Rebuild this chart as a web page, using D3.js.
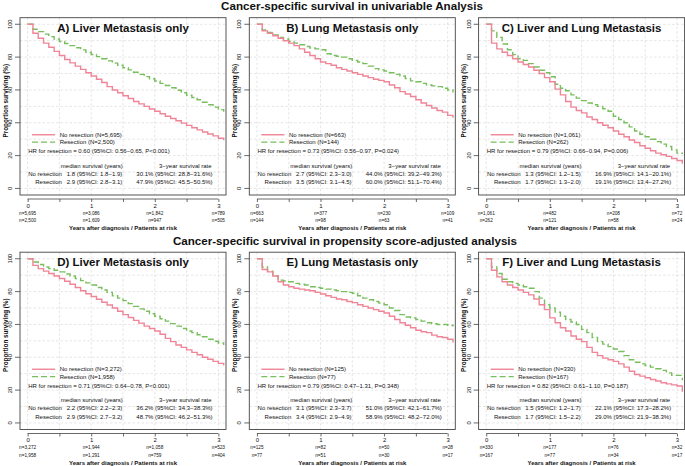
<!DOCTYPE html>
<html><head><meta charset="utf-8">
<script src="https://cdn.jsdelivr.net/npm/d3@7"></script>
<style>
html,body{margin:0;padding:0;background:#fff;}
svg{display:block;font-family:"Liberation Sans",Arial,Helvetica,sans-serif;}
</style></head>
<body><svg id="chart" width="685" height="466"></svg>
<script>
// ---------------- DATA ----------------
const mainTitles = ["Cancer-specific survival in univariable Analysis",
                    "Cancer-specific survival in propensity score-adjusted analysis"];
const panelTitles = ["A) Liver Metastasis only","B) Lung Metastasis only","C) Liver and Lung Metastasis",
                     "D) Liver Metastasis only","E) Lung Metastasis only","F) Liver and Lung Metastasis"];
const groupNames = ["No resection","Resection"];
const noResN = ["5,695","663","1,061","3,272","125","330"];
const resN   = ["2,500","144","262","1,958","77","167"];
const hrText = ["HR for resection = 0.60 (95%CI: 0.56\u22120.65, P<0.001)",
                "HR for resection = 0.73 (95%CI: 0.56\u22120.97, P=0.024)",
                "HR for resection = 0.79 (95%CI: 0.66\u22120.94, P=0.006)",
                "HR for resection = 0.71 (95%CI: 0.64\u22120.78, P<0.001)",
                "HR for resection = 0.79 (95%CI: 0.47\u22121.31, P=0.348)",
                "HR for resection = 0.82 (95%CI: 0.61\u22121.10, P=0.187)"];
const medianNo  = ["1.8 (95%CI: 1.8\u22121.9)","2.7 (95%CI: 2.3\u22123.0)","1.3 (95%CI: 1.2\u22121.5)",
                   "2.2 (95%CI: 2.2\u22122.3)","3.1 (95%CI: 2.3\u22123.7)","1.5 (95%CI: 1.2\u22121.7)"];
const medianRes = ["2.9 (95%CI: 2.8\u22123.1)","3.5 (95%CI: 3.1\u22124.5)","1.7 (95%CI: 1.3\u22122.0)",
                   "2.9 (95%CI: 2.7\u22123.2)","3.4 (95%CI: 2.9\u22124.9)","1.7 (95%CI: 1.5\u22122.2)"];
const rateNo  = ["30.1% (95%CI: 28.8\u221231.6%)","44.0% (95%CI: 39.2\u221249.3%)","16.9% (95%CI: 14.1\u221220.1%)",
                 "36.2% (95%CI: 34.3\u221238.3%)","51.0% (95%CI: 42.1\u221261.7%)","22.1% (95%CI: 17.3\u221228.2%)"];
const rateRes = ["47.9% (95%CI: 45.5\u221250.5%)","60.0% (95%CI: 51.1\u221270.4%)","19.1% (95%CI: 13.4\u221227.2%)",
                 "48.7% (95%CI: 46.2\u221251.3%)","58.9% (95%CI: 48.2\u221272.0%)","29.0% (95%CI: 21.9\u221238.3%)"];
const riskNo = [["5,695","3,086","1,842","789"],["663","377","230","109"],["1,061","482","208","72"],
                ["3,272","1,944","1,058","523"],["125","82","50","28"],["330","177","76","32"]];
const riskRes = [["2,500","1,609","947","505"],["144","98","63","41"],["262","121","58","24"],
                 ["1,958","1,291","759","404"],["77","51","30","17"],["167","77","34","17"]];
const yearTicks = [0,0.5,1,1.5,2,2.5,3];
const survTicks = [0,20,40,60,80,100];
const months = [0,1,2,3,4,5,6,7,8,9,10,11,12,13,14,15,16,17,18,19,20,21,22,23,24,25,26,27,28,29,30,31,32,33,34,35,36,37];
// survival (%) at each month
const survNoA  = [100,94.5,91.5,88.5,86,83.5,81,78.5,76.5,74.5,72.5,70.5,68.5,66.5,64.5,62,60,58.3,56.5,54.8,53,51.5,50,48.4,47,45.5,44,42.6,41.2,39.8,38.4,37,35.7,34.4,33.2,32,30.6,29.3];
const survResA = [100,97,95.5,94,92.5,91,89.5,88.3,87,85.7,84.4,83,81.6,80.3,79,77.7,76.3,75,73.5,72.2,70.8,69.5,68.1,66.8,65.4,64,62.7,61.3,59.8,58.3,56.8,55.4,54,52.5,51,49.5,48,46.7];
const survNoB  = [100,96,94.5,93,91.5,90,88.5,87,85,83,81,79,77,76,75,73.5,72.5,71.5,70.5,69.5,68.5,67.5,66.5,65.8,65,63,61.3,59,57.5,56,54,52,50.5,49,47.5,46.5,44.5,43];
const survResB = [100,96.5,95,93.5,92,91,89.5,88.5,87.5,86.5,85.5,85,84.5,82,81,80.5,80,79,78,77,76,74.5,73,72.2,71.5,70.5,69.5,68.5,67,65.5,65,64,63,62.5,62,61,60,58.5];
const survNoC  = [100,88.5,85,83,81,79,77,75.5,74,72,70,67.5,65,60.5,57,53,49.5,47.5,46,43.5,42,40,38.5,37,35,33,31.5,29.5,28,26,24.5,23,21.5,20.5,19.5,18.2,17,15];
const survResC = [100,96,92,88,84.5,81.5,79,78,76,74,72,70.5,68,63.5,61,59.5,57,55,53.5,52,51,50,48.5,47,44,42,40,37.5,35,33,31.5,30,28.5,27,25.5,23.5,21.5,21];
const survNoD  = [100,96,94,92.5,91,89.5,88,86.3,84.5,82.5,80.5,78.7,77,75.3,73.5,71.8,70,68,66,64.2,62.5,60.8,59,57.5,56,54,51.5,49.5,47.5,46,44.5,43,41.5,40,38.8,37.5,36.3,35];
const survResD = [100,98,96.5,95,94,93,92,90.7,89.5,88,86.7,85.3,84,82.5,81,79.5,77.5,76,74.5,72.7,71,69.5,68,66.5,65,63.5,62,60.5,59,57.5,56,55,53.7,52.5,51,49.8,48.7,47.5];
const survNoE  = [100,93.5,92,89.5,86,84,83,82,81.5,81,80.5,79.5,78.5,77.5,76.5,75.5,75,74,73.3,72,71,70,69,68,67,65,63,61,59.5,58,56.5,55.5,55,53.5,52.5,52,51,49];
const survResE = [100,95,92.5,89.5,87,86.5,86,85,84.5,84,83,82.5,82,81.5,81,80.5,80,79.5,79,77.5,76,75,74,73,72,70,68.5,66,64.5,64,63,62,61,60.5,60,60,59.5,58.8];
const survNoF  = [100,93,89,86,84,82.5,81,79.5,78,75.5,72,69,64,61,58,56,53,51,49.5,46,43,41,39.5,38.5,37.5,36,34,31.5,29.5,28.5,27.5,26.5,25.5,24.5,23.8,23.2,22.5,19];
const survResF = [100,95,91,87.5,86,85,84,83,82,80,76,72,70,67.5,65,63,61.5,60,57,55,52,49.5,48,46.5,45,43.5,41,38.5,37,36,35,34,33,32,30.5,29,29,26];
const survNo  = [survNoA,survNoB,survNoC,survNoD,survNoE,survNoF];
const survRes = [survResA,survResB,survResC,survResD,survResE,survResF];

// ---------------- DRAW ----------------
const svg = d3.select("#chart");
const RED = "#ef8597", GREEN = "#77bf5c", TXT = "#111";
const boxW = 206, boxH = 177.3;
const colOff = [20, 249.3, 478.6], rowOff = [17.7, 252.2];

// main titles
svg.append("text").attr("x", 352).attr("y", 10).attr("text-anchor","middle")
  .attr("font-size", 11.6).attr("font-weight","bold").attr("fill", TXT).text(mainTitles[0]);
svg.append("text").attr("x", 345).attr("y", 245).attr("text-anchor","middle")
  .attr("font-size", 11.6).attr("font-weight","bold").attr("fill", TXT).text(mainTitles[1]);

panelTitles.forEach((title, i) => {
  const bx = colOff[i % 3], by = rowOff[Math.floor(i / 3)];
  const x = d3.scaleLinear().domain([-0.12, 3.12]).range([bx, bx + boxW]);
  const y = d3.scaleLinear().domain([-4, 104]).range([by + boxH, by]);
  const g = svg.append("g");
  const clipId = "clip" + i;
  g.append("clipPath").attr("id", clipId).append("rect")
    .attr("x", bx).attr("y", by).attr("width", boxW).attr("height", boxH);

  // grid
  const grid = g.append("g").attr("stroke", "#d4d4d4").attr("stroke-width", 0.6).attr("stroke-dasharray", "2.5,2");
  yearTicks.forEach(t => grid.append("line").attr("x1", x(t)).attr("x2", x(t)).attr("y1", by).attr("y2", by + boxH));
  d3.range(0, 101, 10).forEach(v => grid.append("line").attr("x1", bx).attr("x2", bx + boxW).attr("y1", y(v)).attr("y2", y(v)));

  // curves
  const line = d3.line().x(d => x(d[0] / 12)).y(d => y(d[1])).curve(d3.curveStepAfter);
  const curves = g.append("g").attr("clip-path", `url(#${clipId})`).attr("fill", "none");
  curves.append("path").datum(months.map((m, k) => [m, survRes[i][k]]))
    .attr("d", line).attr("stroke", GREEN).attr("stroke-width", 1.4).attr("stroke-dasharray", "6,3");
  curves.append("path").datum(months.map((m, k) => [m, survNo[i][k]]))
    .attr("d", line).attr("stroke", RED).attr("stroke-width", 1.4);

  // box
  g.append("rect").attr("x", bx).attr("y", by).attr("width", boxW).attr("height", boxH)
    .attr("fill", "none").attr("stroke", "#444").attr("stroke-width", 0.9);

  // y axis
  const ya = g.append("g").attr("transform", `translate(${bx},0)`)
    .call(d3.axisLeft(y).tickValues(survTicks).tickSize(5).tickFormat(d3.format("d")));
  ya.select(".domain").remove();
  ya.selectAll(".tick line").attr("stroke", "#444").attr("stroke-width", 0.8);
  ya.selectAll(".tick text").attr("font-size", 5.8).attr("fill", TXT).attr("font-family", null)
    .attr("x", -10).attr("dy", null).attr("text-anchor", "middle")
    .attr("transform", "rotate(-90)").each(function(d) {
      d3.select(this).attr("x", -y(d)).attr("y", bx - 10).attr("dominant-baseline", "central");
    });
  ya.selectAll(".tick").attr("transform", null);
  ya.selectAll(".tick line").each(function(d) { d3.select(this).attr("y1", y(d)).attr("y2", y(d)); });
  ya.attr("transform", null);
  ya.selectAll(".tick line").attr("x1", bx - 5).attr("x2", bx);
  ya.selectAll(".tick text").attr("y", bx - 10);

  // y label
  g.append("text").attr("transform", `translate(${bx - 15},${by + 83}) rotate(-90)`)
    .attr("text-anchor", "middle").attr("dominant-baseline", "central")
    .attr("font-size", 6.3).attr("font-weight", "bold").attr("fill", TXT).text("Proportion surviving (%)");

  // x axis
  const axY = by + boxH + 4;
  const xa = g.append("g").attr("transform", `translate(0,${axY})`)
    .call(d3.axisBottom(x).tickValues(yearTicks).tickSize(3).tickFormat(d => Number.isInteger(d) ? d : ""));
  xa.select(".domain").remove();
  xa.append("line").attr("x1", x(0)).attr("x2", x(3)).attr("stroke", "#444").attr("stroke-width", 0.8);
  xa.selectAll(".tick line").attr("stroke", "#444").attr("stroke-width", 0.8);
  xa.selectAll(".tick text").attr("font-size", 6).attr("fill", TXT).attr("font-family", null)
    .attr("y", 6.5).attr("dy", null).attr("dominant-baseline", "central");

  [0, 1, 2, 3].forEach(k => {
    g.append("text").attr("x", x(k)).attr("y", axY + 14).attr("text-anchor", "middle").attr("dominant-baseline", "central")
      .attr("font-size", 4.7).attr("fill", TXT).text("n=" + riskNo[i][k]);
    g.append("text").attr("x", x(k)).attr("y", axY + 21.5).attr("text-anchor", "middle").attr("dominant-baseline", "central")
      .attr("font-size", 4.7).attr("fill", TXT).text("n=" + riskRes[i][k]);
  });
  g.append("text").attr("x", x(1.5)).attr("y", axY + 29).attr("text-anchor", "middle").attr("dominant-baseline", "central")
    .attr("font-size", 6).attr("font-weight", "bold").attr("fill", TXT).text("Years after diagnosis / Patients at risk");

  // panel title
  g.append("text").attr("x", x(1.5)).attr("y", by + 14).attr("text-anchor", "middle")
    .attr("font-size", 11.5).attr("font-weight", "bold").attr("fill", TXT).text(title);

  // legend
  const lx0 = x(0) + 4.4, lx1 = x(0) + 27.5, ltx = x(0) + 32;
  g.append("line").attr("x1", lx0).attr("x2", lx1).attr("y1", y(32.7)).attr("y2", y(32.7))
    .attr("stroke", RED).attr("stroke-width", 1.4);
  g.append("line").attr("x1", lx0).attr("x2", lx1).attr("y1", y(28.2)).attr("y2", y(28.2))
    .attr("stroke", GREEN).attr("stroke-width", 1.4).attr("stroke-dasharray", "6,3");
  const txt = (xx, vv, s, anchor) => g.append("text").attr("x", xx).attr("y", y(vv))
    .attr("text-anchor", anchor || "start").attr("dominant-baseline", "central")
    .attr("font-size", 6).attr("fill", TXT).text(s);
  txt(ltx, 32.7, `${groupNames[0]} (N=${noResN[i]})`);
  txt(ltx, 28.2, `${groupNames[1]} (N=${resN[i]})`);
  txt(x(0) + 0.5, 22.7, hrText[i]);
  txt(x(1.01), 13.8, "median survival (years)", "middle");
  txt(x(2.48), 13.8, "3\u2212year survival rate", "middle");
  txt(x(0.54), 8.9, groupNames[0], "end");
  txt(x(0.54), 3.8, groupNames[1], "end");
  txt(x(0.615), 8.9, medianNo[i]);
  txt(x(0.615), 3.8, medianRes[i]);
  txt(x(1.71), 8.9, rateNo[i]);
  txt(x(1.71), 3.8, rateRes[i]);
});
</script></body></html>
